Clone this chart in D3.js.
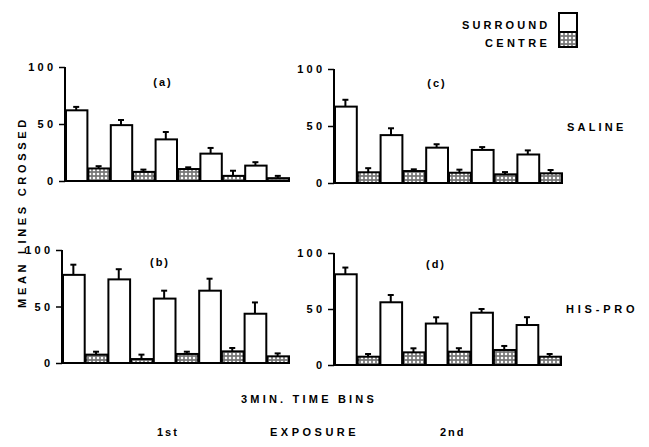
<!DOCTYPE html>
<html>
<head>
<meta charset="utf-8">
<script src="https://cdn.jsdelivr.net/npm/d3@7/dist/d3.min.js"></script>
<style>
  html, body { margin: 0; padding: 0; background: #fff; }
  svg text { font-family: "Liberation Sans", Arial, sans-serif; font-weight: bold; fill: #000; }
</style>
</head>
<body>
<svg id="chart" width="649" height="447"></svg>
<script>
// ---- data ----
const bins = ["1", "2", "3", "4", "5"];
const seriesNames = ["SURROUND", "CENTRE"];
const yTicks = [0, 50, 100];

// (a) Saline, 1st exposure
const salineFirstSurround = [62, 49, 36.5, 24, 13.5];
const salineFirstSurroundSem = [3, 4.5, 6.5, 5, 3];
const salineFirstCentre = [11, 8, 10.5, 4.5, 2.5];
const salineFirstCentreSem = [2, 2, 1.5, 4.5, 2];
// (c) Saline, 2nd exposure
const salineSecondSurround = [67, 42, 31, 29, 25];
const salineSecondSurroundSem = [6, 6, 3, 2.5, 3.6];
const salineSecondCentre = [9.4, 10.5, 9, 7.6, 8.5];
const salineSecondCentreSem = [3.6, 1.5, 2.7, 2, 2.9];
// (b) His-Pro, 1st exposure
const hisproFirstSurround = [78, 74, 57, 64, 43.6];
const hisproFirstSurroundSem = [9, 9, 7, 10.6, 10];
const hisproFirstCentre = [7.4, 3.5, 8, 10.3, 5.9];
const hisproFirstCentreSem = [2.6, 3.9, 2, 3, 2.6];
// (d) His-Pro, 2nd exposure
const hisproSecondSurround = [81, 56, 37, 46.7, 35.7];
const hisproSecondSurroundSem = [6, 6.5, 5.6, 3.3, 7];
const hisproSecondCentre = [7.4, 11.3, 11.9, 13.4, 7.4];
const hisproSecondCentreSem = [2.4, 3.6, 3.1, 3.6, 2.4];

const panelLabels = ["(a)", "(b)", "(c)", "(d)"];
const rowLabels = ["SALINE", "HIS-PRO"];

// ---- layout ----
const svg = d3.select("#chart");
const defs = svg.append("defs");
const pat = defs.append("pattern").attr("id", "stipple")
  .attr("width", 4).attr("height", 4).attr("patternUnits", "userSpaceOnUse");
pat.append("rect").attr("width", 4).attr("height", 4).attr("fill", "#777");
pat.append("circle").attr("cx", 2).attr("cy", 2).attr("r", 1.3).attr("fill", "#fff");

const panels = [
  { label: panelLabels[0], s: salineFirstSurround, se: salineFirstSurroundSem, c: salineFirstCentre, ce: salineFirstCentreSem,
    left: 65, right: 289, y0: 181, y100: 67, lx: 163, ly: 83 },
  { label: panelLabels[1], s: hisproFirstSurround, se: hisproFirstSurroundSem, c: hisproFirstCentre, ce: hisproFirstCentreSem,
    left: 62, right: 289, y0: 363, y100: 250, lx: 160, ly: 263 },
  { label: panelLabels[2], s: salineSecondSurround, se: salineSecondSurroundSem, c: salineSecondCentre, ce: salineSecondCentreSem,
    left: 334, right: 562, y0: 183, y100: 69, lx: 437, ly: 84 },
  { label: panelLabels[3], s: hisproSecondSurround, se: hisproSecondSurroundSem, c: hisproSecondCentre, ce: hisproSecondCentreSem,
    left: 334, right: 561, y0: 365, y100: 253, lx: 436, ly: 265 }
];

const LS = 3.2; // letter spacing

panels.forEach(p => {
  const g = svg.append("g");
  const x = d3.scaleBand().domain(bins).range([p.left, p.right]).padding(0);
  const xi = d3.scaleBand().domain(seriesNames).range([0, x.bandwidth()]).padding(0);
  const y = d3.scaleLinear().domain([0, 100]).range([p.y0, p.y100]);

  const rows = [];
  bins.forEach((b, i) => {
    rows.push({ bin: b, series: seriesNames[0], v: p.s[i], e: p.se[i] });
    rows.push({ bin: b, series: seriesNames[1], v: p.c[i], e: p.ce[i] });
  });

  // error bars (upward only)
  const eb = g.selectAll("g.err").data(rows).join("g").attr("class", "err");
  eb.append("line")
    .attr("x1", d => x(d.bin) + xi(d.series) + xi.bandwidth() / 2)
    .attr("x2", d => x(d.bin) + xi(d.series) + xi.bandwidth() / 2)
    .attr("y1", d => y(d.v)).attr("y2", d => y(d.v + d.e))
    .attr("stroke", "#000").attr("stroke-width", 2);
  eb.append("line")
    .attr("x1", d => x(d.bin) + xi(d.series) + xi.bandwidth() / 2 - 3)
    .attr("x2", d => x(d.bin) + xi(d.series) + xi.bandwidth() / 2 + 3)
    .attr("y1", d => y(d.v + d.e)).attr("y2", d => y(d.v + d.e))
    .attr("stroke", "#000").attr("stroke-width", 2);

  // bars
  g.selectAll("rect.bar").data(rows).join("rect").attr("class", "bar")
    .attr("x", d => x(d.bin) + xi(d.series) + 1)
    .attr("width", xi.bandwidth() - 1)
    .attr("y", d => y(d.v))
    .attr("height", d => y(0) - y(d.v))
    .attr("fill", d => d.series === seriesNames[0] ? "#fff" : "url(#stipple)")
    .attr("stroke", "#000").attr("stroke-width", 2);

  // baseline
  g.append("line").attr("x1", p.left).attr("x2", p.right + 1)
    .attr("y1", y(0)).attr("y2", y(0)).attr("stroke", "#000").attr("stroke-width", 2);

  // y axis
  const ax = g.append("g").attr("transform", `translate(${p.left},0)`)
    .call(d3.axisLeft(y).tickValues(yTicks).tickSize(6).tickPadding(6).tickFormat(d3.format("d")));
  ax.select(".domain").attr("stroke", "#000").attr("stroke-width", 2).attr("d", `M0,${y(100)}V${y(0)}`);
  ax.selectAll(".tick line").attr("stroke", "#000").attr("stroke-width", 1.5);
  ax.selectAll(".tick text").attr("font-size", 11).attr("font-family", "Liberation Sans, Arial, sans-serif")
    .attr("font-weight", "bold").attr("fill", "#000").style("letter-spacing", LS + "px").attr("dx", LS);

  // panel label
  g.append("text").attr("x", p.lx).attr("y", p.ly).attr("text-anchor", "middle").attr("dominant-baseline", "middle")
    .attr("font-size", 11).style("letter-spacing", "2px").text(p.label);
});

// row labels
svg.append("text").attr("x", 567).attr("y", 131).attr("font-size", 11).style("letter-spacing", "3.2px").text(rowLabels[0]);
svg.append("text").attr("x", 566).attr("y", 313).attr("font-size", 11).style("letter-spacing", "3.8px").text(rowLabels[1]);

// y axis title
svg.append("text").attr("transform", "translate(26,212) rotate(-90)").attr("text-anchor", "middle")
  .attr("font-size", 11).style("letter-spacing", "3.7px").text("MEAN LINES CROSSED");

// x axis titles
svg.append("text").attr("x", 241).attr("y", 403).attr("font-size", 11).style("letter-spacing", "3.2px").text("3MIN. TIME BINS");
svg.append("text").attr("x", 157).attr("y", 436).attr("font-size", 11).style("letter-spacing", "2px").text("1st");
svg.append("text").attr("x", 270).attr("y", 436).attr("font-size", 11).style("letter-spacing", "3.5px").text("EXPOSURE");
svg.append("text").attr("x", 440).attr("y", 436).attr("font-size", 11).style("letter-spacing", "2px").text("2nd");

// legend
svg.append("text").attr("x", 462).attr("y", 29).attr("font-size", 11).style("letter-spacing", "3.1px").text(seriesNames[0]);
svg.append("text").attr("x", 485).attr("y", 47).attr("font-size", 11).style("letter-spacing", "3.3px").text(seriesNames[1]);
svg.append("rect").attr("x", 559).attr("y", 13).attr("width", 18).attr("height", 19)
  .attr("fill", "#fff").attr("stroke", "#000").attr("stroke-width", 2);
svg.append("rect").attr("x", 559).attr("y", 32).attr("width", 18).attr("height", 15)
  .attr("fill", "url(#stipple)").attr("stroke", "#000").attr("stroke-width", 2);
</script>
</body>
</html>
